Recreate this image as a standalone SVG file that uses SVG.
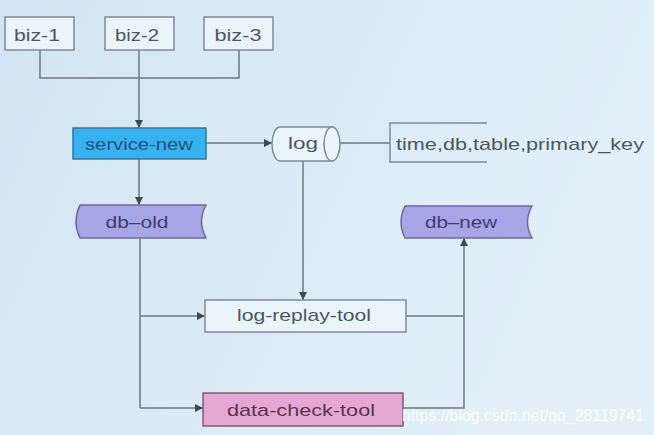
<svg xmlns="http://www.w3.org/2000/svg" width="654" height="435" viewBox="0 0 654 435">
<defs>
<linearGradient id="bg" x1="0" y1="0" x2="1" y2="0.3">
<stop offset="0" stop-color="#d3e5f2"/>
<stop offset="1" stop-color="#e3f0fa"/>
</linearGradient>
<marker id="arr" viewBox="0 0 10 10" refX="10" refY="5" markerWidth="8" markerHeight="8" markerUnits="userSpaceOnUse" orient="auto">
<path d="M0,0 L10,5 L0,10 Z" fill="#3e4a52"/>
</marker>
<style>
text{font-family:"Liberation Sans",Arial,sans-serif;font-size:17px;fill:#4d575f;text-anchor:middle}
.box{fill:#eaf4fb;stroke:#7e8c97;stroke-width:1.5}
.svc{fill:#37b2ee;stroke:#2b78a8;stroke-width:1.5}
.db{fill:#a6a5e6;stroke:#6c6aa0;stroke-width:1.5}
.chk{fill:#e4a8d2;stroke:#7b5f70;stroke-width:1.5}
.ln{fill:none;stroke:#6c7880;stroke-width:1.5}
.arw{marker-end:url(#arr)}
</style>
</defs>
<rect width="654" height="435" fill="url(#bg)"/>
<g id="connectors">
<path class="ln" d="M40,50 V78 H239 V50"/>
<path class="ln arw" d="M139,50 V128"/>
<path class="ln arw" d="M206,143 H272"/>
<path class="ln arw" d="M139,159 V205"/>
<path class="ln" d="M340,143 H390"/>
<path class="ln arw" d="M303,161 V300"/>
<path class="ln" d="M140,238 V408"/>
<path class="ln arw" d="M140,316 H205"/>
<path class="ln arw" d="M140,408 H203"/>
<path class="ln" d="M406,316 H464"/>
<path class="ln arw" d="M403,408 H464 V238"/>
</g>
<g id="biz-1"><rect class="box" x="5" y="17" width="69" height="33"/><text x="37" y="41" textLength="46" lengthAdjust="spacingAndGlyphs">biz-1</text></g>
<g id="biz-2"><rect class="box" x="105" y="17" width="69" height="33"/><text x="137" y="41" textLength="44" lengthAdjust="spacingAndGlyphs">biz-2</text></g>
<g id="biz-3"><rect class="box" x="204" y="17" width="69" height="33"/><text x="238" y="41" textLength="47" lengthAdjust="spacingAndGlyphs">biz-3</text></g>
<g id="service-new"><rect class="svc" x="73" y="128" width="133" height="31"/><text x="139" y="150" style="fill:#1f4f7e" textLength="108" lengthAdjust="spacingAndGlyphs">service-new</text></g>
<g id="log">
<path class="box" d="M280,127 H332 A8,17 0 0 1 332,161 H280 A8,17 0 0 1 280,127 Z"/>
<path class="ln" d="M332,127 A8,17 0 0 0 332,161" style="stroke:#7e8c97"/>
<text x="303" y="149" textLength="30" lengthAdjust="spacingAndGlyphs">log</text>
</g>
<g id="log-fields">
<path class="ln" d="M487,123 H390 V162 H487" style="stroke:#7e8c97"/>
<text x="396" y="150" style="text-anchor:start" textLength="248" lengthAdjust="spacingAndGlyphs">time,db,table,primary_key</text>
</g>
<g id="db-old"><path class="db" d="M80,205 H206 Q197,221.5 206,238 H80 Q72,221.5 80,205 Z"/><text x="137" y="228" style="fill:#3f3d72" textLength="63" lengthAdjust="spacingAndGlyphs">db–old</text></g>
<g id="db-new"><path class="db" d="M405,206 H532 Q523,222 532,238 H405 Q397,222 405,206 Z"/><text x="461" y="228" style="fill:#3f3d72" textLength="72" lengthAdjust="spacingAndGlyphs">db–new</text></g>
<g id="log-replay-tool"><rect class="box" x="205" y="300" width="201" height="32"/><text x="304" y="321" textLength="134" lengthAdjust="spacingAndGlyphs">log-replay-tool</text></g>
<g id="data-check-tool"><rect class="chk" x="203" y="393" width="200" height="33"/><text x="301" y="416" style="fill:#5a3450" textLength="148" lengthAdjust="spacingAndGlyphs">data-check-tool</text></g>
<text x="402" y="421" style="text-anchor:start;fill:#ffffff;fill-opacity:0.85;font-size:16px" textLength="242" lengthAdjust="spacingAndGlyphs">https://blog.csdn.net/qq_28119741</text>
</svg>
